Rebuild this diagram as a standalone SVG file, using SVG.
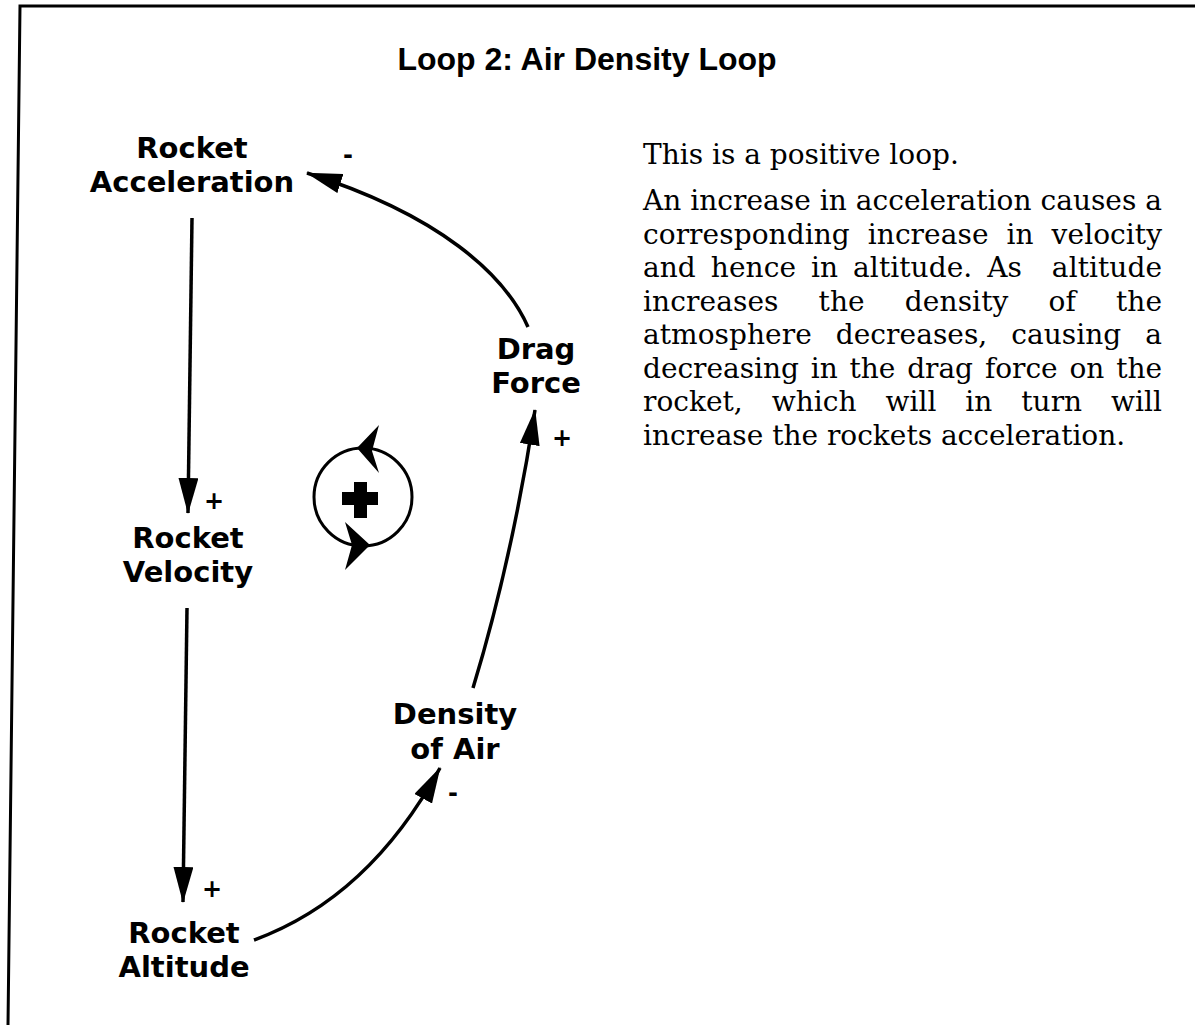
<svg xmlns="http://www.w3.org/2000/svg" width="1195" height="1025" viewBox="0 0 1195 1025">
<style>
.node{font-family:"DejaVu Sans","Liberation Sans",sans-serif;font-weight:bold;font-size:29px;fill:#000;text-anchor:middle}
.sign{font-family:"DejaVu Sans","Liberation Sans",sans-serif;font-weight:bold;font-size:24px;fill:#000;text-anchor:middle}
.title{font-family:"Liberation Sans",Arial,sans-serif;font-weight:bold;font-size:32px;fill:#000;text-anchor:middle}
.body{font-family:"DejaVu Serif","Liberation Serif",serif;font-size:28px;fill:#000;white-space:pre}
.conn{fill:none;stroke:#000;stroke-width:3.5;marker-end:url(#arr)}
.frame{fill:none;stroke:#000;stroke-width:3}
</style>
<defs>
<marker id="arr" markerUnits="userSpaceOnUse" viewBox="0 0 36 20" refX="35" refY="10" markerWidth="36" markerHeight="20" orient="auto">
<path d="M0,0 L36,10 L0,20 Z" fill="#000"/>
</marker>
</defs>
<rect width="1195" height="1025" fill="#fff"/>
<g id="frame">
<path class="frame" d="M1195,6 L20,6 L8,1025"/>
</g>
<text class="title" x="587" y="70">Loop 2: Air Density Loop</text>
<g id="connectors">
<path class="conn" d="M192,218 L188,513"/>
<path class="conn" d="M187,608 L183,902"/>
<path class="conn" d="M254,940 Q369,898 440,768"/>
<path class="conn" d="M473,688 Q512,560 535,410"/>
<path class="conn" d="M528,327 C505,275 440,215 307,173"/>
</g>
<g id="signs">
<text class="sign" x="348" y="163">-</text>
<text class="sign" x="214" y="509">+</text>
<text class="sign" x="212" y="897">+</text>
<text class="sign" x="453" y="801">-</text>
<text class="sign" x="562" y="446">+</text>
</g>
<g id="node-acceleration"><text class="node" x="192" y="158">Rocket</text><text class="node" x="192" y="192">Acceleration</text></g>
<g id="node-velocity"><text class="node" x="188" y="548">Rocket</text><text class="node" x="188" y="582">Velocity</text></g>
<g id="node-altitude"><text class="node" x="184" y="943">Rocket</text><text class="node" x="184" y="977">Altitude</text></g>
<g id="node-density"><text class="node" x="455" y="724">Density</text><text class="node" x="455" y="759">of Air</text></g>
<g id="node-drag"><text class="node" x="536" y="359">Drag</text><text class="node" x="536" y="393">Force</text></g>
<g id="loop-symbol">
<circle cx="363" cy="497" r="49" fill="none" stroke="#000" stroke-width="3"/>
<path d="M357,448 L379,425 L372,451 L379,473 Z" fill="#000"/>
<path d="M370,545 L345,522 L352,545 L345,570 Z" fill="#000"/>
<path d="M342,492 H354 V482 H367 V492 H378 V505 H367 V518 H354 V505 H342 Z" fill="#000"/>
</g>
<g id="description">
<text class="body" x="643" y="164">This is a positive loop.</text>
<text class="body" x="643" y="210" textLength="519" lengthAdjust="spacing">An increase in acceleration causes a</text>
<text class="body" x="643" y="244" textLength="519" lengthAdjust="spacing" style="word-spacing:9px">corresponding increase in velocity</text>
<text class="body" x="643" y="277" textLength="519" lengthAdjust="spacing" style="word-spacing:6px">and hence in altitude. As  altitude</text>
<text class="body" x="643" y="311" textLength="519" lengthAdjust="spacing" style="word-spacing:31px">increases the density of the</text>
<text class="body" x="643" y="344" textLength="519" lengthAdjust="spacing" style="word-spacing:15px">atmosphere decreases, causing a</text>
<text class="body" x="643" y="378" textLength="519" lengthAdjust="spacing" style="word-spacing:3px">decreasing in the drag force on the</text>
<text class="body" x="643" y="411" textLength="519" lengthAdjust="spacing" style="word-spacing:20px">rocket, which will in turn will</text>
<text class="body" x="643" y="445">increase the rockets acceleration.</text>
</g>
</svg>
